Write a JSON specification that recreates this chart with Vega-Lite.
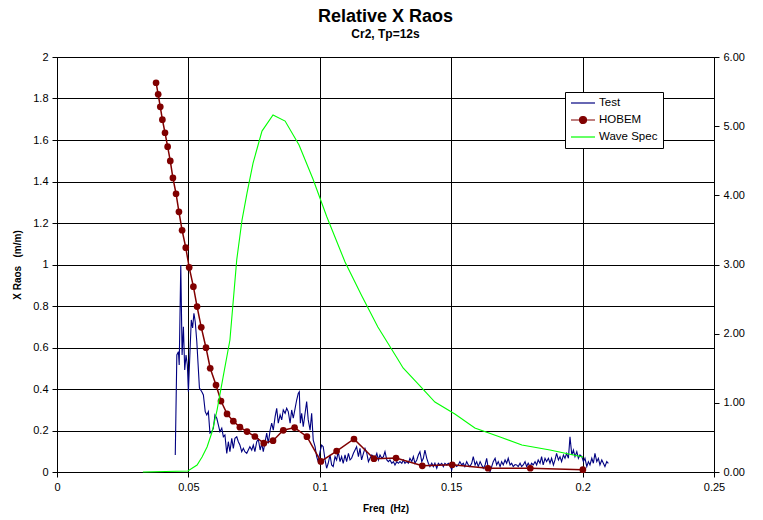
{
  "$schema": "https://vega.github.io/schema/vega-lite/v6.json",
  "autosize": {"type": "none"},
  "padding": {"left": 57, "top": 57, "right": 49, "bottom": 48},
  "width": 657,
  "height": 415,
  "background": "white",
  "config": {
    "font": "Liberation Sans",
    "view": {"stroke": "black", "strokeWidth": 1},
    "axis": {"labelFont": "Liberation Sans", "titleFont": "Liberation Sans", "labelColor": "black", "titleColor": "black", "tickColor": "black", "domainColor": "black", "gridColor": "black", "gridOpacity": 1, "gridWidth": 1, "labelFontSize": 11, "titleFontSize": 10, "titleFontWeight": "bold", "tickSize": 5}
  },
  "title": {
    "text": "Relative X Raos",
    "subtitle": "Cr2, Tp=12s",
    "fontSize": 18,
    "fontWeight": "bold",
    "subtitleFontSize": 12,
    "subtitleFontWeight": "bold",
    "subtitleColor": "black",
    "color": "black",
    "font": "Liberation Sans",
    "subtitleFont": "Liberation Sans",
    "anchor": "middle",
    "offset": 11,
    "subtitlePadding": 3
  },
  "datasets": {
    "test": [
      {"f":0.0450,"v":0.082},{"f":0.0456,"v":0.564},{"f":0.0462,"v":0.580},{"f":0.0465,"v":0.516},{"f":0.0471,"v":0.998},{"f":0.0476,"v":0.564},{"f":0.0481,"v":0.700},{"f":0.0486,"v":0.492},{"f":0.0491,"v":0.564},{"f":0.0496,"v":0.516},{"f":0.0500,"v":0.387},{"f":0.0506,"v":0.580},{"f":0.0511,"v":0.733},{"f":0.0516,"v":0.694},{"f":0.0521,"v":0.765},{"f":0.0526,"v":0.724},{"f":0.0532,"v":0.628},{"f":0.0537,"v":0.516},{"f":0.0542,"v":0.405},{"f":0.0551,"v":0.387},{"f":0.0557,"v":0.371},{"f":0.0564,"v":0.291},{"f":0.0570,"v":0.275},{"f":0.0576,"v":0.291},{"f":0.0582,"v":0.187},{"f":0.0589,"v":0.194},{"f":0.0595,"v":0.211},{"f":0.0601,"v":0.275},{"f":0.0608,"v":0.259},{"f":0.0614,"v":0.227},{"f":0.0620,"v":0.194},{"f":0.0627,"v":0.211},{"f":0.0633,"v":0.170},{"f":0.0639,"v":0.178},{"f":0.0646,"v":0.090},{"f":0.0652,"v":0.146},{"f":0.0658,"v":0.098},{"f":0.0665,"v":0.162},{"f":0.0671,"v":0.114},{"f":0.0677,"v":0.162},{"f":0.0684,"v":0.170},{"f":0.0690,"v":0.146},{"f":0.0696,"v":0.130},{"f":0.0703,"v":0.098},{"f":0.0709,"v":0.114},{"f":0.0715,"v":0.098},{"f":0.0722,"v":0.090},{"f":0.0728,"v":0.106},{"f":0.0734,"v":0.122},{"f":0.0741,"v":0.106},{"f":0.0747,"v":0.130},{"f":0.0753,"v":0.098},{"f":0.0760,"v":0.146},{"f":0.0766,"v":0.158},{"f":0.0773,"v":0.106},{"f":0.0779,"v":0.138},{"f":0.0785,"v":0.098},{"f":0.0792,"v":0.146},{"f":0.0798,"v":0.187},{"f":0.0804,"v":0.138},{"f":0.0811,"v":0.202},{"f":0.0817,"v":0.235},{"f":0.0823,"v":0.202},{"f":0.0830,"v":0.267},{"f":0.0836,"v":0.307},{"f":0.0842,"v":0.235},{"f":0.0849,"v":0.275},{"f":0.0855,"v":0.251},{"f":0.0861,"v":0.299},{"f":0.0868,"v":0.283},{"f":0.0874,"v":0.307},{"f":0.0880,"v":0.291},{"f":0.0887,"v":0.235},{"f":0.0893,"v":0.299},{"f":0.0899,"v":0.259},{"f":0.0906,"v":0.307},{"f":0.0912,"v":0.347},{"f":0.0918,"v":0.379},{"f":0.0922,"v":0.387},{"f":0.0926,"v":0.235},{"f":0.0931,"v":0.283},{"f":0.0937,"v":0.218},{"f":0.0944,"v":0.283},{"f":0.0950,"v":0.339},{"f":0.0956,"v":0.251},{"f":0.0963,"v":0.202},{"f":0.0969,"v":0.283},{"f":0.0975,"v":0.154},{"f":0.0982,"v":0.122},{"f":0.0988,"v":0.074},{"f":0.0994,"v":0.050},{"f":0.1001,"v":0.098},{"f":0.1007,"v":0.130},{"f":0.1013,"v":0.122},{"f":0.1020,"v":0.058},{"f":0.1026,"v":0.018},{"f":0.1032,"v":0.042},{"f":0.1039,"v":0.082},{"f":0.1045,"v":0.034},{"f":0.1051,"v":0.026},{"f":0.1058,"v":0.074},{"f":0.1064,"v":0.058},{"f":0.1070,"v":0.098},{"f":0.1077,"v":0.050},{"f":0.1083,"v":0.074},{"f":0.1089,"v":0.042},{"f":0.1096,"v":0.082},{"f":0.1102,"v":0.050},{"f":0.1109,"v":0.090},{"f":0.1115,"v":0.058},{"f":0.1121,"v":0.066},{"f":0.1128,"v":0.090},{"f":0.1134,"v":0.106},{"f":0.1140,"v":0.122},{"f":0.1147,"v":0.074},{"f":0.1153,"v":0.114},{"f":0.1159,"v":0.058},{"f":0.1166,"v":0.090},{"f":0.1172,"v":0.114},{"f":0.1179,"v":0.090},{"f":0.1185,"v":0.050},{"f":0.1191,"v":0.066},{"f":0.1198,"v":0.082},{"f":0.1204,"v":0.074},{"f":0.1210,"v":0.066},{"f":0.1217,"v":0.090},{"f":0.1223,"v":0.058},{"f":0.1229,"v":0.082},{"f":0.1236,"v":0.066},{"f":0.1242,"v":0.074},{"f":0.1248,"v":0.098},{"f":0.1255,"v":0.058},{"f":0.1261,"v":0.050},{"f":0.1267,"v":0.058},{"f":0.1274,"v":0.042},{"f":0.1280,"v":0.050},{"f":0.1286,"v":0.034},{"f":0.1293,"v":0.050},{"f":0.1299,"v":0.042},{"f":0.1305,"v":0.050},{"f":0.1312,"v":0.042},{"f":0.1318,"v":0.058},{"f":0.1324,"v":0.042},{"f":0.1331,"v":0.050},{"f":0.1337,"v":0.042},{"f":0.1343,"v":0.066},{"f":0.1350,"v":0.050},{"f":0.1356,"v":0.074},{"f":0.1362,"v":0.042},{"f":0.1369,"v":0.058},{"f":0.1375,"v":0.082},{"f":0.1381,"v":0.098},{"f":0.1388,"v":0.050},{"f":0.1394,"v":0.066},{"f":0.1400,"v":0.106},{"f":0.1407,"v":0.066},{"f":0.1413,"v":0.042},{"f":0.1419,"v":0.026},{"f":0.1426,"v":0.042},{"f":0.1432,"v":0.026},{"f":0.1438,"v":0.042},{"f":0.1445,"v":0.018},{"f":0.1451,"v":0.042},{"f":0.1457,"v":0.034},{"f":0.1464,"v":0.042},{"f":0.1470,"v":0.026},{"f":0.1476,"v":0.042},{"f":0.1483,"v":0.034},{"f":0.1489,"v":0.042},{"f":0.1495,"v":0.034},{"f":0.1502,"v":0.010},{"f":0.1508,"v":0.042},{"f":0.1514,"v":0.034},{"f":0.1521,"v":0.026},{"f":0.1527,"v":0.034},{"f":0.1533,"v":0.050},{"f":0.1540,"v":0.034},{"f":0.1546,"v":0.042},{"f":0.1552,"v":0.026},{"f":0.1559,"v":0.050},{"f":0.1565,"v":0.034},{"f":0.1571,"v":0.026},{"f":0.1578,"v":0.042},{"f":0.1584,"v":0.074},{"f":0.1591,"v":0.034},{"f":0.1597,"v":0.050},{"f":0.1603,"v":0.026},{"f":0.1610,"v":0.050},{"f":0.1616,"v":0.034},{"f":0.1622,"v":0.018},{"f":0.1629,"v":0.034},{"f":0.1635,"v":0.066},{"f":0.1641,"v":0.018},{"f":0.1648,"v":0.002},{"f":0.1654,"v":0.026},{"f":0.1660,"v":0.050},{"f":0.1667,"v":0.066},{"f":0.1673,"v":0.034},{"f":0.1679,"v":0.050},{"f":0.1686,"v":0.026},{"f":0.1692,"v":0.050},{"f":0.1698,"v":0.034},{"f":0.1705,"v":0.058},{"f":0.1711,"v":0.042},{"f":0.1717,"v":0.066},{"f":0.1724,"v":0.034},{"f":0.1730,"v":0.042},{"f":0.1736,"v":0.026},{"f":0.1743,"v":0.036},{"f":0.1749,"v":0.034},{"f":0.1755,"v":0.026},{"f":0.1762,"v":0.042},{"f":0.1768,"v":0.026},{"f":0.1774,"v":0.034},{"f":0.1781,"v":0.050},{"f":0.1787,"v":0.026},{"f":0.1793,"v":0.042},{"f":0.1800,"v":0.026},{"f":0.1806,"v":0.042},{"f":0.1812,"v":0.034},{"f":0.1819,"v":0.050},{"f":0.1825,"v":0.034},{"f":0.1831,"v":0.058},{"f":0.1838,"v":0.042},{"f":0.1844,"v":0.074},{"f":0.1850,"v":0.034},{"f":0.1857,"v":0.066},{"f":0.1863,"v":0.050},{"f":0.1870,"v":0.066},{"f":0.1876,"v":0.042},{"f":0.1882,"v":0.066},{"f":0.1889,"v":0.034},{"f":0.1895,"v":0.058},{"f":0.1901,"v":0.090},{"f":0.1908,"v":0.058},{"f":0.1914,"v":0.074},{"f":0.1920,"v":0.050},{"f":0.1927,"v":0.082},{"f":0.1933,"v":0.066},{"f":0.1939,"v":0.090},{"f":0.1946,"v":0.066},{"f":0.1952,"v":0.170},{"f":0.1959,"v":0.082},{"f":0.1965,"v":0.106},{"f":0.1971,"v":0.074},{"f":0.1978,"v":0.098},{"f":0.1984,"v":0.066},{"f":0.1990,"v":0.082},{"f":0.1997,"v":0.074},{"f":0.2003,"v":0.050},{"f":0.2009,"v":0.066},{"f":0.2016,"v":0.026},{"f":0.2022,"v":0.050},{"f":0.2028,"v":0.034},{"f":0.2035,"v":0.066},{"f":0.2041,"v":0.042},{"f":0.2047,"v":0.090},{"f":0.2054,"v":0.050},{"f":0.2060,"v":0.066},{"f":0.2066,"v":0.034},{"f":0.2073,"v":0.058},{"f":0.2079,"v":0.042},{"f":0.2085,"v":0.026},{"f":0.2092,"v":0.050},{"f":0.2098,"v":0.042}
    ],
    "hobem": [
      {"f":0.0377,"v":1.876},{"f":0.0385,"v":1.820},{"f":0.0393,"v":1.760},{"f":0.0401,"v":1.698},{"f":0.0411,"v":1.635},{"f":0.0421,"v":1.568},{"f":0.0431,"v":1.499},{"f":0.0441,"v":1.417},{"f":0.0453,"v":1.341},{"f":0.0464,"v":1.254},{"f":0.0476,"v":1.165},{"f":0.0490,"v":1.081},{"f":0.0503,"v":0.986},{"f":0.0519,"v":0.893},{"f":0.0533,"v":0.797},{"f":0.0549,"v":0.697},{"f":0.0567,"v":0.599},{"f":0.0583,"v":0.500},{"f":0.0605,"v":0.419},{"f":0.0624,"v":0.342},{"f":0.0647,"v":0.280},{"f":0.0671,"v":0.245},{"f":0.0696,"v":0.216},{"f":0.0723,"v":0.195},{"f":0.0753,"v":0.171},{"f":0.0787,"v":0.139},{"f":0.0822,"v":0.151},{"f":0.0861,"v":0.201},{"f":0.0904,"v":0.214},{"f":0.0951,"v":0.170},{"f":0.1004,"v":0.051},{"f":0.1064,"v":0.101},{"f":0.1130,"v":0.159},{"f":0.1206,"v":0.064},{"f":0.1290,"v":0.067},{"f":0.1390,"v":0.030},{"f":0.1504,"v":0.035},{"f":0.1640,"v":0.018},{"f":0.1801,"v":0.018},{"f":0.2001,"v":0.011}
    ],
    "wave": [
      {"f":0.0327,"v":0},{"f":0.0498,"v":0.014},{"f":0.0533,"v":0.101},{"f":0.0552,"v":0.217},{"f":0.0571,"v":0.361},{"f":0.0590,"v":0.578},{"f":0.0609,"v":0.896},{"f":0.0632,"v":1.373},{"f":0.0658,"v":1.908},{"f":0.0684,"v":3.07},{"f":0.0704,"v":3.643},{"f":0.0723,"v":4.033},{"f":0.0746,"v":4.467},{"f":0.0780,"v":4.929},{"f":0.0822,"v":5.161},{"f":0.0868,"v":5.074},{"f":0.0921,"v":4.727},{"f":0.0974,"v":4.236},{"f":0.1027,"v":3.687},{"f":0.1096,"v":3.036},{"f":0.1160,"v":2.544},{"f":0.1221,"v":2.096},{"f":0.1294,"v":1.648},{"f":0.1317,"v":1.504},{"f":0.1381,"v":1.244},{"f":0.1438,"v":1.012},{"f":0.1514,"v":0.839},{"f":0.1590,"v":0.636},{"f":0.1686,"v":0.506},{"f":0.1769,"v":0.390},{"f":0.1876,"v":0.318},{"f":0.2001,"v":0.217}
    ]
  },
  "layer": [
    {
      "layer": [
        {
          "data": {"name": "test"},
          "mark": {"type": "line", "strokeWidth": 1.1, "clip": true},
          "encoding": {
            "x": {"field": "f", "type": "quantitative", "scale": {"domain": [0, 0.25], "nice": false}, "axis": {"title": "Freq\u00a0\u00a0(Hz)", "values": [0, 0.05, 0.1, 0.15, 0.2, 0.25], "format": ".2~f", "grid": true, "domain": false, "labelFlush": false, "titlePadding": 11, "labelPadding": 4}},
            "y": {"field": "v", "type": "quantitative", "scale": {"domain": [0, 2], "nice": false}, "axis": {"title": "X Raos\u00a0\u00a0\u00a0(m/m)", "values": [0, 0.2, 0.4, 0.6, 0.8, 1, 1.2, 1.4, 1.6, 1.8, 2], "format": ".1~f", "grid": true, "domain": false, "labelFlush": false, "titlePadding": 10, "labelPadding": 4}},
            "color": {"datum": "Test", "type": "nominal", "scale": {"domain": ["Test", "HOBEM", "Wave Spec"], "range": ["#000080", "#800000", "#00ff00"]}, "legend": {
              "title": null, "orient": "none", "legendX": 508, "legendY": 35,
              "symbolType": "stroke", "symbolSize": 100, "symbolStrokeWidth": 1.2,
              "labelFont": "Liberation Sans", "labelFontSize": 11.5, "labelColor": "black",
              "fillColor": "white", "strokeColor": "black", "padding": 5, "rowPadding": 5, "labelOffset": 17,
              "encode": {"symbols": {"update": {
                "shape": {"signal": "datum.value === 'HOBEM' ? 'M-1,0L3.8,0M2.1,0A0.7,0.7 0 1,1 0.7,0A0.7,0.7 0 1,1 2.1,0Z' : 'M-1,0L3.8,0'"},
                "fill": {"signal": "datum.value === 'HOBEM' ? '#800000' : 'transparent'"}
              }}}
            }}
          }
        },
        {
          "data": {"name": "hobem"},
          "mark": {"type": "line", "strokeWidth": 1.5, "point": {"filled": true, "size": 45, "opacity": 1}},
          "encoding": {
            "x": {"field": "f", "type": "quantitative"},
            "y": {"field": "v", "type": "quantitative"},
            "color": {"datum": "HOBEM", "type": "nominal"}
          }
        }
      ]
    },
    {
      "data": {"name": "wave"},
      "mark": {"type": "line", "strokeWidth": 1.1},
      "encoding": {
        "x": {"field": "f", "type": "quantitative"},
        "y": {"field": "v", "type": "quantitative", "scale": {"domain": [0, 6], "nice": false}, "axis": {"orient": "right", "title": null, "values": [0, 1, 2, 3, 4, 5, 6], "format": ".2f", "grid": false, "domain": false, "labelFlush": false, "labelPadding": 4}},
        "color": {"datum": "Wave Spec", "type": "nominal"}
      }
    }
  ],
  "resolve": {"scale": {"y": "independent"}}
}
